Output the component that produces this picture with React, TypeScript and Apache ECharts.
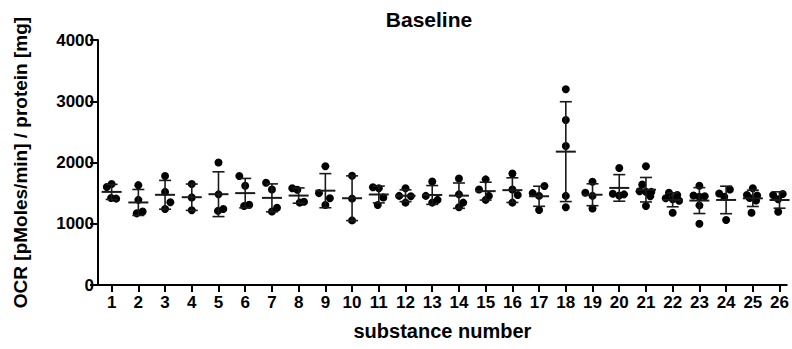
import React, { useEffect, useRef } from "react";
import * as echarts from "echarts";

const substances = [1, 2, 3, 4, 5, 6, 7, 8, 9, 10, 11, 12, 13, 14, 15, 16, 17, 18, 19, 20, 21, 22, 23, 24, 25, 26];

const yTicks = [0, 1000, 2000, 3000, 4000];

const ocrValues: number[][] = [
  [1600, 1650, 1420, 1410],
  [1630, 1390, 1170, 1200],
  [1780, 1520, 1350, 1240],
  [1650, 1430, 1220],
  [2000, 1480, 1240, 1210],
  [1780, 1620, 1290, 1310],
  [1670, 1560, 1200, 1260],
  [1580, 1555, 1345, 1360],
  [1940, 1500, 1415, 1305],
  [1785, 1410, 1055],
  [1595, 1580, 1430, 1305],
  [1580, 1455, 1450, 1345],
  [1690, 1455, 1345, 1390],
  [1740, 1480, 1345, 1270],
  [1725, 1560, 1455, 1390],
  [1820, 1560, 1470, 1345],
  [1615, 1500, 1455, 1225],
  [3195, 2695, 2270, 1455, 1270],
  [1685, 1505, 1455, 1250],
  [1910, 1490, 1460, 1480],
  [1940, 1640, 1530, 1520, 1520, 1450, 1290],
  [1505, 1470, 1415, 1400, 1375, 1180],
  [1620, 1460, 1440, 1450, 1300, 1000],
  [1560, 1495, 1440, 1060],
  [1580, 1470, 1460, 1420, 1380, 1180],
  [1470, 1485, 1400, 1195],
];

// horizontal scatter spread of each point, in substance units
const jitter: number[][] = [
  [-0.18, 0, -0.02, 0.17],
  [0, 0, -0.06, 0.16],
  [0, 0, 0.2, 0],
  [0, 0, 0],
  [0, 0, 0.18, -0.02],
  [-0.22, 0, -0.04, 0.15],
  [-0.22, 0, 0, 0.19],
  [-0.24, -0.05, 0.04, 0.2],
  [0, -0.24, 0.17, 0],
  [0, 0, 0],
  [-0.22, 0, 0.17, -0.04],
  [0, -0.24, 0.2, 0],
  [0, -0.24, 0, 0.2],
  [0, 0, 0.16, 0],
  [0, -0.25, 0.12, 0],
  [0, 0, 0.2, 0],
  [0.2, -0.24, 0, 0],
  [0, 0, 0, 0, 0],
  [0, -0.27, 0, 0],
  [0, -0.24, 0, 0.18],
  [0, -0.14, -0.24, 0, 0.2, 0.16, 0],
  [-0.14, 0.17, -0.26, 0, 0.24, 0],
  [0, -0.22, 0, 0.2, 0, 0],
  [0.14, -0.26, -0.07, 0],
  [0, -0.22, 0.16, -0.12, 0.12, -0.05],
  [-0.24, 0.12, -0.05, -0.05],
];

const FONT = "'Liberation Sans', Arial, sans-serif";

export default function App() {
  const ref = useRef<HTMLDivElement>(null);

  useEffect(() => {
    document.body.style.margin = "0";
    if (!ref.current) return;
    const chart = echarts.init(ref.current, null, { renderer: "svg" });

    const points: number[][] = [];
    substances.forEach((s, i) => {
      ocrValues[i].forEach((v, j) => points.push([s + jitter[i][j], v]));
    });

    const stats = substances.map((s, i) => {
      const vals = ocrValues[i];
      const n = vals.length;
      const mean = vals.reduce((a, b) => a + b, 0) / n;
      const sd = Math.sqrt(vals.reduce((a, b) => a + (b - mean) * (b - mean), 0) / (n - 1));
      return [s, mean, mean - sd, mean + sd];
    });

    const option: any = {
      animation: false,
      backgroundColor: "#ffffff",
      graphic: [
        {
          type: "text",
          x: 429,
          y: 19,
          style: {
            text: "Baseline",
            textAlign: "center",
            textVerticalAlign: "middle",
            fontFamily: FONT,
            fontWeight: "bold",
            fontSize: 21,
            fill: "#000",
          },
        },
      ],
      grid: { left: 98, right: 2, top: 40, bottom: 64, containLabel: false },
      xAxis: {
        type: "value",
        min: 0.49,
        max: 26.27,
        name: "substance number",
        nameLocation: "middle",
        nameGap: 36,
        nameTextStyle: { fontFamily: FONT, fontWeight: "bold", fontSize: 20, color: "#000" },
        axisLine: { show: true, onZero: false, lineStyle: { color: "#000", width: 2 } },
        axisTick: { show: true, customValues: substances, length: 7, lineStyle: { color: "#000", width: 2 } },
        axisLabel: {
          customValues: substances,
          fontFamily: FONT,
          fontWeight: "bold",
          fontSize: 17,
          color: "#000",
          margin: 9,
        },
        splitLine: { show: false },
      },
      yAxis: {
        type: "value",
        min: 0,
        max: 4000,
        interval: 1000,
        name: "OCR [pMoles/min] / protein [mg]",
        nameLocation: "middle",
        nameGap: 68,
        nameTextStyle: { fontFamily: FONT, fontWeight: "bold", fontSize: 19, color: "#000" },
        axisLine: { show: true, lineStyle: { color: "#000", width: 2 } },
        axisTick: { show: true, length: 8, lineStyle: { color: "#000", width: 2 } },
        axisLabel: {
          customValues: yTicks,
          formatter: (v: number) => String(v),
          fontFamily: FONT,
          fontWeight: "bold",
          fontSize: 17,
          color: "#000",
          margin: 4,
        },
        splitLine: { show: false },
      },
      series: [
        {
          type: "scatter",
          data: points,
          symbol: "circle",
          symbolSize: 8,
          itemStyle: { color: "#000", opacity: 1 },
          z: 2,
        },
        {
          type: "custom",
          data: stats,
          z: 3,
          renderItem: (params: any, api: any) => {
            const x = api.value(0);
            const m = api.coord([x, api.value(1)]);
            const lo = api.coord([x, api.value(2)]);
            const hi = api.coord([x, api.value(3)]);
            const cap = 6;
            const half = 10;
            const st = { stroke: "#1a1a1a", lineWidth: 1.6 };
            return {
              type: "group",
              children: [
                { type: "line", shape: { x1: m[0], y1: lo[1], x2: m[0], y2: hi[1] }, style: st },
                { type: "line", shape: { x1: m[0] - cap, y1: lo[1], x2: m[0] + cap, y2: lo[1] }, style: st },
                { type: "line", shape: { x1: m[0] - cap, y1: hi[1], x2: m[0] + cap, y2: hi[1] }, style: st },
                {
                  type: "line",
                  shape: { x1: m[0] - half, y1: m[1], x2: m[0] + half, y2: m[1] },
                  style: { stroke: "#1a1a1a", lineWidth: 2 },
                },
              ],
            };
          },
        },
      ],
    };

    chart.setOption(option);
    return () => chart.dispose();
  }, []);

  return <div ref={ref} style={{ width: 792, height: 349 }} />;
}
